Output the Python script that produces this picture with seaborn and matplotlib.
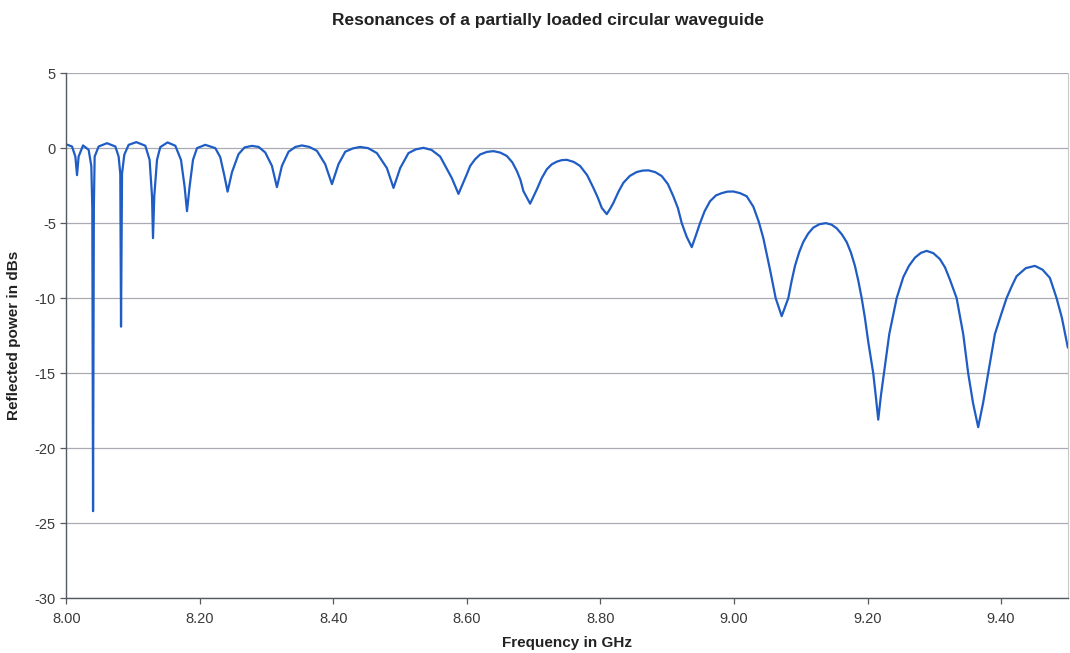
import matplotlib
matplotlib.use("Agg")
import matplotlib.pyplot as plt
import seaborn as sns
import pandas as pd
from matplotlib.ticker import FixedLocator, FormatStrFormatter

# Measured reflection of the partially loaded circular waveguide
freq_ghz = [
    8.0000, 8.0085, 8.0135, 8.0160, 8.0184, 8.0250, 8.0334, 8.0374, 8.0389, 8.0400,
    8.0412, 8.0424, 8.0484, 8.0609, 8.0734, 8.0783, 8.0808, 8.0819, 8.0834, 8.0868,
    8.0933, 8.1048, 8.1183, 8.1247, 8.1283, 8.1298, 8.1317, 8.1358, 8.1407, 8.1516,
    8.1632, 8.1717, 8.1771, 8.1807, 8.1846, 8.1897, 8.1957, 8.2081, 8.2231, 8.2305,
    8.2365, 8.2415, 8.2481, 8.2579, 8.2670, 8.2780, 8.2880, 8.2979, 8.3079, 8.3154,
    8.3229, 8.3328, 8.3430, 8.3528, 8.3640, 8.3753, 8.3877, 8.3978, 8.4076, 8.4177,
    8.4290, 8.4401, 8.4520, 8.4651, 8.4801, 8.4900, 8.5000, 8.5124, 8.5235, 8.5349,
    8.5470, 8.5599, 8.5774, 8.5873, 8.5999, 8.6048, 8.6120, 8.6198, 8.6300, 8.6397,
    8.6500, 8.6597, 8.6680, 8.6747, 8.6800, 8.6846, 8.6946, 8.7000, 8.7046, 8.7120,
    8.7196, 8.7270, 8.7346, 8.7420, 8.7496, 8.7600, 8.7695, 8.7800, 8.7894, 8.7960,
    8.8020, 8.8094, 8.8150, 8.8193, 8.8270, 8.8343, 8.8440, 8.8543, 8.8630, 8.8717,
    8.8820, 8.8917, 8.9010, 8.9091, 8.9160, 8.9217, 8.9290, 8.9367, 8.9430, 8.9491,
    8.9560, 8.9641, 8.9730, 8.9816, 8.9900, 8.9990, 9.0090, 9.0190, 9.0289, 9.0370,
    9.0439, 9.0539, 9.0624, 9.0714, 9.0813, 9.0863, 9.0913, 9.0975, 9.1037, 9.1110,
    9.1187, 9.1280, 9.1377, 9.1460, 9.1537, 9.1615, 9.1687, 9.1750, 9.1811, 9.1862,
    9.1912, 9.1960, 9.2010, 9.2085, 9.2125, 9.2160, 9.2200, 9.2246, 9.2325, 9.2436,
    9.2485, 9.2535, 9.2620, 9.2710, 9.2800, 9.2885, 9.2985, 9.3084, 9.3160, 9.3234,
    9.3334, 9.3433, 9.3507, 9.3580, 9.3657, 9.3730, 9.3807, 9.3907, 9.4000, 9.4082,
    9.4160, 9.4232, 9.4370, 9.4506, 9.4620, 9.4731, 9.4831, 9.4910, 9.4981, 9.5000,
]
power_db = [
    0.25, 0.11, -0.56, -1.8, -0.56, 0.18, -0.11, -1.2, -4.0, -24.2,
    -4.0, -0.56, 0.11, 0.33, 0.11, -0.56, -1.7, -11.9, -1.7, -0.44,
    0.22, 0.40, 0.16, -0.78, -3.2, -6.0, -3.2, -0.78, 0.07, 0.38,
    0.16, -0.78, -2.56, -4.2, -2.56, -0.78, 0.0, 0.22, 0.0, -0.6,
    -1.8, -2.9, -1.6, -0.4, 0.05, 0.15, 0.08, -0.29, -1.18, -2.6,
    -1.18, -0.24, 0.08, 0.18, 0.08, -0.18, -1.07, -2.4, -1.07, -0.24,
    -0.02, 0.08, 0.0, -0.33, -1.33, -2.65, -1.33, -0.33, -0.08, 0.02,
    -0.12, -0.56, -2.0, -3.05, -1.73, -1.19, -0.75, -0.42, -0.25, -0.2,
    -0.3, -0.52, -0.95, -1.52, -2.1, -2.87, -3.7, -3.2, -2.76, -2.0,
    -1.41, -1.08, -0.90, -0.8, -0.78, -0.92, -1.19, -1.8, -2.65, -3.3,
    -3.99, -4.4, -4.0, -3.65, -2.9, -2.31, -1.85, -1.59, -1.5, -1.48,
    -1.6, -1.86, -2.4, -3.21, -4.0, -5.0, -5.9, -6.6, -5.8, -5.0,
    -4.2, -3.54, -3.15, -3.0, -2.9, -2.89, -3.0, -3.21, -3.9, -4.9,
    -6.0, -8.1, -10.0, -11.2, -10.0, -8.85, -7.85, -6.95, -6.26, -5.7,
    -5.3, -5.07, -5.0, -5.1, -5.34, -5.75, -6.26, -6.95, -7.85, -8.85,
    -10.0, -11.3, -12.9, -15.0, -16.6, -18.1, -16.5, -15.0, -12.4, -10.0,
    -9.3, -8.6, -7.85, -7.3, -6.98, -6.85, -7.0, -7.4, -7.95, -8.77,
    -10.0, -12.4, -15.0, -17.0, -18.6, -17.0, -15.0, -12.4, -11.1, -10.0,
    -9.2, -8.54, -8.0, -7.85, -8.1, -8.65, -10.0, -11.3, -12.9, -13.3,
]

x_ticks = [8.0, 8.2, 8.4, 8.6, 8.8, 9.0, 9.2, 9.4]
y_ticks = [5, 0, -5, -10, -15, -20, -25, -30]

title = "Resonances of a partially loaded circular waveguide"
x_label = "Frequency in GHz"
y_label = "Reflected power in dBs"

sns.set_theme(style="white")
plt.rcParams["font.family"] = ["Liberation Sans", "DejaVu Sans"]

df = pd.DataFrame({"freq": freq_ghz, "power": power_db})

fig = plt.figure(figsize=(10.7, 6.53), dpi=100)
ax = fig.add_axes([0.062, 0.084, 0.936, 0.804])

sns.lineplot(data=df, x="freq", y="power", ax=ax, sort=False,
             color="#1f5cc4", linewidth=1.6, estimator=None)

ax.set_xlim(8.0, 9.5)
ax.set_ylim(-30, 5)
ax.xaxis.set_major_locator(FixedLocator(x_ticks))
ax.yaxis.set_major_locator(FixedLocator(y_ticks))
ax.xaxis.set_major_formatter(FormatStrFormatter("%.2f"))
ax.yaxis.set_major_formatter(FormatStrFormatter("%d"))

ax.yaxis.grid(True, color="#a9acb4", linewidth=0.9)
ax.xaxis.grid(False)
ax.set_axisbelow(True)

ax.spines["top"].set_visible(False)
ax.spines["right"].set_color("#c8c8c8")
ax.spines["right"].set_linewidth(0.8)
for side in ("left", "bottom"):
    ax.spines[side].set_color("#555a60")
    ax.spines[side].set_linewidth(1.0)

ax.tick_params(axis="both", which="major", direction="out", length=4,
               width=0.9, color="#555a60", labelsize=10.5, labelcolor="#3a3a3a",
               left=True, bottom=True)
ax.tick_params(axis="x", pad=6)

ax.set_xlabel(x_label, fontsize=11, fontweight="bold", color="#222222", labelpad=7)
ax.set_ylabel(y_label, fontsize=11, fontweight="bold", color="#222222", labelpad=10)
fig.text(0.512, 0.968, title, ha="center", va="center", fontsize=12.5,
         fontweight="bold", color="#222222")

fig.savefig("out.png", dpi=100, facecolor="white")
